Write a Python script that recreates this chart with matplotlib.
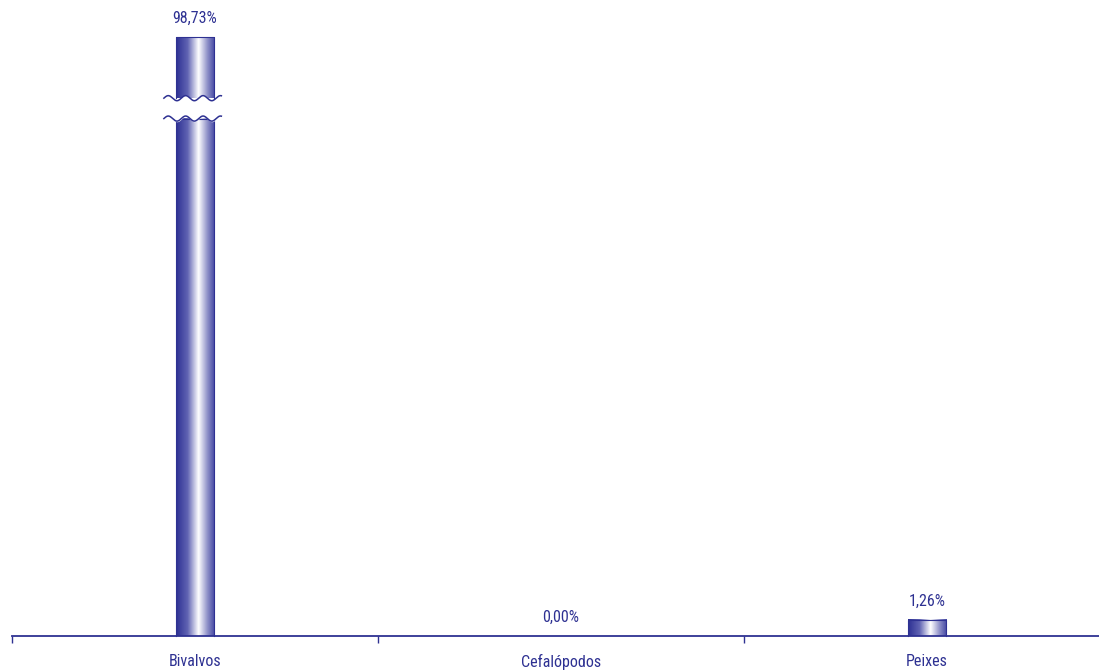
"""Bar chart of catch share by group, with a broken first bar."""

import matplotlib.pyplot as plt
import numpy as np
from matplotlib.colors import LinearSegmentedColormap

# data
categories = ["Bivalvos", "Cefalópodos", "Peixes"]
shares = [98.73, 0.00, 1.26]

NAVY = "#2E3192"
Y_TOP = 47.0  # visible top of the y range, the first bar is cut here
BREAK_LOW, BREAK_HIGH = 40.6, 42.2
BAR_W = 0.104

plt.rcParams["font.family"] = ["Roboto Condensed", "Liberation Sans Narrow", "Roboto", "DejaVu Sans"]

# horizontal gradient: dark left edge, white highlight right of centre
cmap = LinearSegmentedColormap.from_list(
    "tube",
    [(0.0, "#2C2F93"), (0.3, "#6164B3"), (0.58, "#FFFFFF"),
     (0.82, "#8A8CC6"), (1.0, "#4346A2")],
)
grad = np.linspace(0, 1, 256).reshape(1, -1)

fig = plt.figure(figsize=(10.99, 6.70), dpi=100)
ax = fig.add_axes([12 / 1099, 34 / 670, 1098 / 1099, 599 / 670])


def draw_bar(x, y0, y1):
    ax.imshow(grad, cmap=cmap, aspect="auto", extent=(x - BAR_W / 2, x + BAR_W / 2, y0, y1),
              interpolation="bilinear", zorder=2)
    ax.plot([x - BAR_W / 2, x - BAR_W / 2, x + BAR_W / 2, x + BAR_W / 2],
            [y0, y1, y1, y0], color=NAVY, lw=0.8, zorder=3, clip_on=False)


for i, val in enumerate(shares):
    if val > Y_TOP:
        # broken bar: lower part, gap, upper part
        draw_bar(i, 0, BREAK_LOW)
        draw_bar(i, BREAK_HIGH, Y_TOP)
        xs = np.linspace(i - BAR_W / 2 - 0.033, i + BAR_W / 2 + 0.02, 200)
        wave = 0.2 * np.sin((xs - xs[0]) / (xs[-1] - xs[0]) * 2 * np.pi * 3.3)
        ax.fill_between(xs, BREAK_LOW - 0.05 + wave, BREAK_HIGH + 0.05 + wave,
                        color="white", zorder=4, lw=0)
        ax.plot(xs, BREAK_LOW + wave, color=NAVY, lw=1.1, zorder=5)
        ax.plot(xs, BREAK_HIGH + wave, color=NAVY, lw=1.1, zorder=5)
        top = Y_TOP
    else:
        if val > 0:
            draw_bar(i, 0, val)
        top = val
    ax.annotate(f"{val:.2f}%".replace(".", ","), (i, top), xytext=(0, 8),
                textcoords="offset points", ha="center", va="bottom",
                fontsize=11.5, color=NAVY, annotation_clip=False)

ax.set_xlim(-0.5, len(categories) - 0.5)
ax.set_ylim(0, Y_TOP)

# axis styling
for side in ["top", "right", "left"]:
    ax.spines[side].set_visible(False)
ax.spines["bottom"].set_color(NAVY)
ax.spines["bottom"].set_linewidth(1.3)
ax.set_yticks([])
ax.set_xticks(range(len(categories)))
ax.set_xticklabels(categories, fontsize=11.5, color=NAVY)
ax.tick_params(axis="x", which="major", length=0, pad=13)
ax.set_xticks(np.arange(-0.5, len(categories), 1.0), minor=True)
ax.tick_params(axis="x", which="minor", length=5, width=1.0, color=NAVY)

fig.savefig("out.png", dpi=100)
